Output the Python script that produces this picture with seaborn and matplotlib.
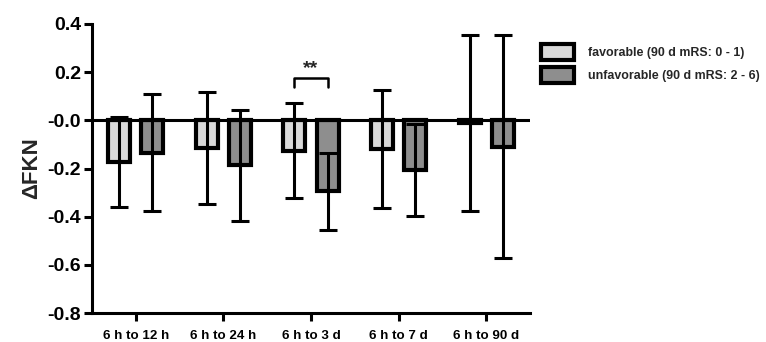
import numpy as np
import pandas as pd
import matplotlib
matplotlib.use("Agg")
import matplotlib.pyplot as plt
from matplotlib.container import BarContainer
import seaborn as sns

categories = ["6 h to 12 h", "6 h to 24 h", "6 h to 3 d", "6 h to 7 d", "6 h to 90 d"]
groups = ["favorable (90 d mRS: 0 - 1)", "unfavorable (90 d mRS: 2 - 6)"]
fav_mean = [-0.172, -0.116, -0.126, -0.120, -0.010]
fav_sd = [0.187, 0.232, 0.196, 0.246, 0.365]
unf_mean = [-0.134, -0.186, -0.294, -0.206, -0.110]
unf_sd = [0.242, 0.230, 0.160, 0.190, 0.463]
yticks = [-0.8, -0.6, -0.4, -0.2, 0.0, 0.2, 0.4]
ytick_labels = ["-0.8", "-0.6", "-0.4", "-0.2", "-0.0", "0.2", "0.4"]
sig_label = "**"

sns.set_theme(style="ticks")
plt.rcParams["font.family"] = ["Liberation Sans", "DejaVu Sans"]
plt.rcParams["font.weight"] = "bold"

df = pd.DataFrame({
    "cat": categories * 2,
    "group": [groups[0]] * len(categories) + [groups[1]] * len(categories),
    "val": fav_mean + unf_mean,
})

fig = plt.figure(figsize=(7.66, 3.42), dpi=100)
ax = fig.add_axes([92 / 766, 29 / 342, 438 / 766, 289 / 342])

sns.barplot(data=df, x="cat", y="val", hue="group", order=categories, hue_order=groups,
            palette=["#d9d9d9", "#8e8e8e"], errorbar=None, width=0.76, gap=0.34,
            edgecolor="black", linewidth=3.0, ax=ax, zorder=2)

sds = [fav_sd, unf_sd]
means = [fav_mean, unf_mean]
bar_conts = [c for c in ax.containers if isinstance(c, BarContainer)]
centers = []
for i, cont in enumerate(bar_conts):
    xs = np.array([p.get_x() + p.get_width() / 2 for p in cont.patches])
    centers.append(xs)
for i, xs in enumerate(centers):
    ax.errorbar(xs, means[i], yerr=sds[i], fmt="none", ecolor="black",
                elinewidth=2.2, capsize=6.5, capthick=2.2, zorder=4)

ax.axhline(0, color="black", lw=2.2, zorder=3)

# significance bracket for group 3
gi = 2
x1, x2 = centers[0][gi], centers[1][gi]
yb, yl = 0.175, 0.14
ax.plot([x1, x1, x2, x2], [yl, yb, yb, yl], color="black", lw=1.8, zorder=5)
ax.text((x1 + x2) / 2, yb + 0.005, sig_label, ha="center", va="bottom",
        fontsize=14, fontweight="bold")

ax.set_xlim(-0.5, 4.5)
ax.set_ylim(-0.8, 0.4)
ax.set_yticks(yticks)
ax.set_yticklabels(ytick_labels, fontsize=14, fontweight="bold")
ax.set_xticks(range(len(categories)))
ax.set_xticklabels(categories, fontsize=9.6, fontweight="bold")
ax.set_xlabel("")
ax.set_ylabel("ΔFKN", fontsize=16, fontweight="bold", labelpad=4)

for s in ["top", "right"]:
    ax.spines[s].set_visible(False)
for s in ["left", "bottom"]:
    ax.spines[s].set_linewidth(2.2)
    ax.spines[s].set_color("black")
ax.tick_params(axis="both", width=2.2, length=6, color="black", labelcolor="black")
ax.tick_params(axis="x", pad=6)
ax.tick_params(axis="y", pad=2)

handles, labels = ax.get_legend_handles_labels()
ax.legend(handles, labels, loc="upper left", bbox_to_anchor=(541 / 766, 1 - 44 / 342),
          bbox_transform=fig.transFigure, frameon=False, borderpad=0, borderaxespad=0,
          handlelength=2.7, handleheight=1.6, handletextpad=1.1, labelspacing=0.6,
          prop={"size": 8.9, "weight": "bold"})

fig.savefig("out.png", dpi=100)
